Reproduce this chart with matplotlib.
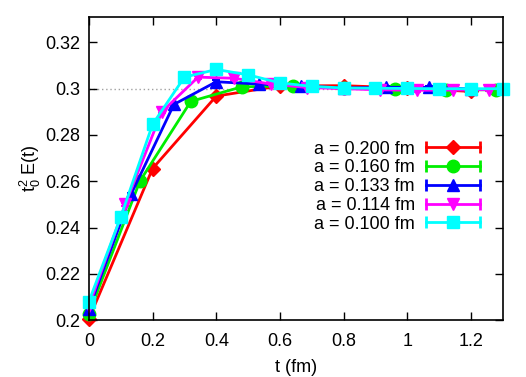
import numpy as np
import matplotlib
matplotlib.use('Agg')
import matplotlib.pyplot as plt
from matplotlib.lines import Line2D
from matplotlib.legend_handler import HandlerLine2D

plt.rcParams['font.family'] = ['Liberation Sans', 'DejaVu Sans']
plt.rcParams['mathtext.fontset'] = 'custom'
plt.rcParams['mathtext.rm'] = 'Liberation Sans'
plt.rcParams['mathtext.default'] = 'regular'

# flow time t (fm) for each lattice spacing
t_200 = [0.0, 0.2, 0.4, 0.6, 0.8, 1.0, 1.2]
t_160 = [0.0, 0.16, 0.32, 0.48, 0.64, 0.80, 0.96, 1.12, 1.28]
t_133 = [0.0, 0.133, 0.267, 0.400, 0.533, 0.667, 0.800, 0.933, 1.067, 1.200]
t_114 = [0.0, 0.114, 0.229, 0.343, 0.457, 0.571, 0.686, 0.800, 0.914, 1.029, 1.143, 1.257]
t_100 = [0.0, 0.1, 0.2, 0.3, 0.4, 0.5, 0.6, 0.7, 0.8, 0.9, 1.0, 1.1, 1.2, 1.3]

E_200 = [0.2005, 0.2655, 0.2968, 0.3012, 0.3013, 0.3003, 0.2988]
E_160 = [0.2027, 0.2600, 0.2945, 0.3008, 0.3012, 0.3002, 0.2999, 0.2996, 0.2995]
E_133 = [0.2047, 0.2545, 0.2932, 0.3030, 0.3020, 0.3012, 0.3003, 0.3006, 0.3006, 0.2999]
E_114 = [0.2060, 0.2500, 0.2900, 0.3050, 0.3045, 0.3020, 0.3005, 0.3000, 0.2995, 0.2993, 0.2994, 0.2996]
E_100 = [0.2080, 0.2445, 0.2846, 0.3050, 0.3083, 0.3060, 0.3025, 0.3010, 0.3003, 0.3002, 0.3001, 0.3000, 0.3000, 0.3000]

err = 0.0006

labels = ['a = 0.200 fm', 'a = 0.160 fm', 'a = 0.133 fm', 'a = 0.114 fm', 'a = 0.100 fm']
colors = ['#ff0000', '#00ee00', '#0000ff', '#ff00ff', '#00ffff']
markers = ['D', 'o', '^', 'v', 's']
msizes = [7, 9, 8, 8, 8]

fig = plt.figure(figsize=(5.26, 3.77), dpi=100)
ax = fig.add_axes([0.169, 0.151, 0.787, 0.804])

ax.axhline(0.3, color='#a0a0a0', lw=1, ls=(0, (1, 2)), zorder=0)

series = [(t_200, E_200), (t_160, E_160), (t_133, E_133), (t_114, E_114), (t_100, E_100)]
handles = []
hmap = {}
for (t, E), lab, c, m, ms in zip(series, labels, colors, markers, msizes):
    ax.errorbar(t, E, yerr=err, color=c, marker=m, ms=ms, lw=2, capsize=3,
                elinewidth=1.5, capthick=1.5, clip_on=False)
    # gnuplot style key: horizontal bar with end caps and a marker in the middle
    body = Line2D([], [], color=c, lw=2, marker=m, ms=ms)
    caps = Line2D([], [], color=c, ls='none', marker='|', ms=8, mew=2)
    hmap[caps] = HandlerLine2D(numpoints=2, marker_pad=0)
    handles.append((body, caps))

ax.set_xlim(0, 1.3)
ax.set_ylim(0.2, 0.331)
ax.set_xticks([0, 0.2, 0.4, 0.6, 0.8, 1.0, 1.2])
ax.set_xticklabels(['0', '0.2', '0.4', '0.6', '0.8', '1', '1.2'])
ax.set_yticks([0.2, 0.22, 0.24, 0.26, 0.28, 0.3, 0.32])
ax.set_yticklabels(['0.2', '0.22', '0.24', '0.26', '0.28', '0.3', '0.32'])
ax.tick_params(direction='in', top=True, right=True, length=6, width=1, labelsize=13, pad=6)
ax.tick_params(axis='x', pad=9)
for s in ax.spines.values():
    s.set_linewidth(1.2)

ax.set_xlabel('t (fm)', fontsize=13, labelpad=7)
ax.set_ylabel(r'$t_0^2$ E(t)', fontsize=13, labelpad=2)

ax.legend(handles, labels, handler_map=hmap, loc='center right', bbox_to_anchor=(0.966, 0.44),
          frameon=False, markerfirst=False, fontsize=13, handlelength=3.0,
          labelspacing=0.1, borderpad=0, handletextpad=0.6)

plt.savefig('out.png', dpi=100)
